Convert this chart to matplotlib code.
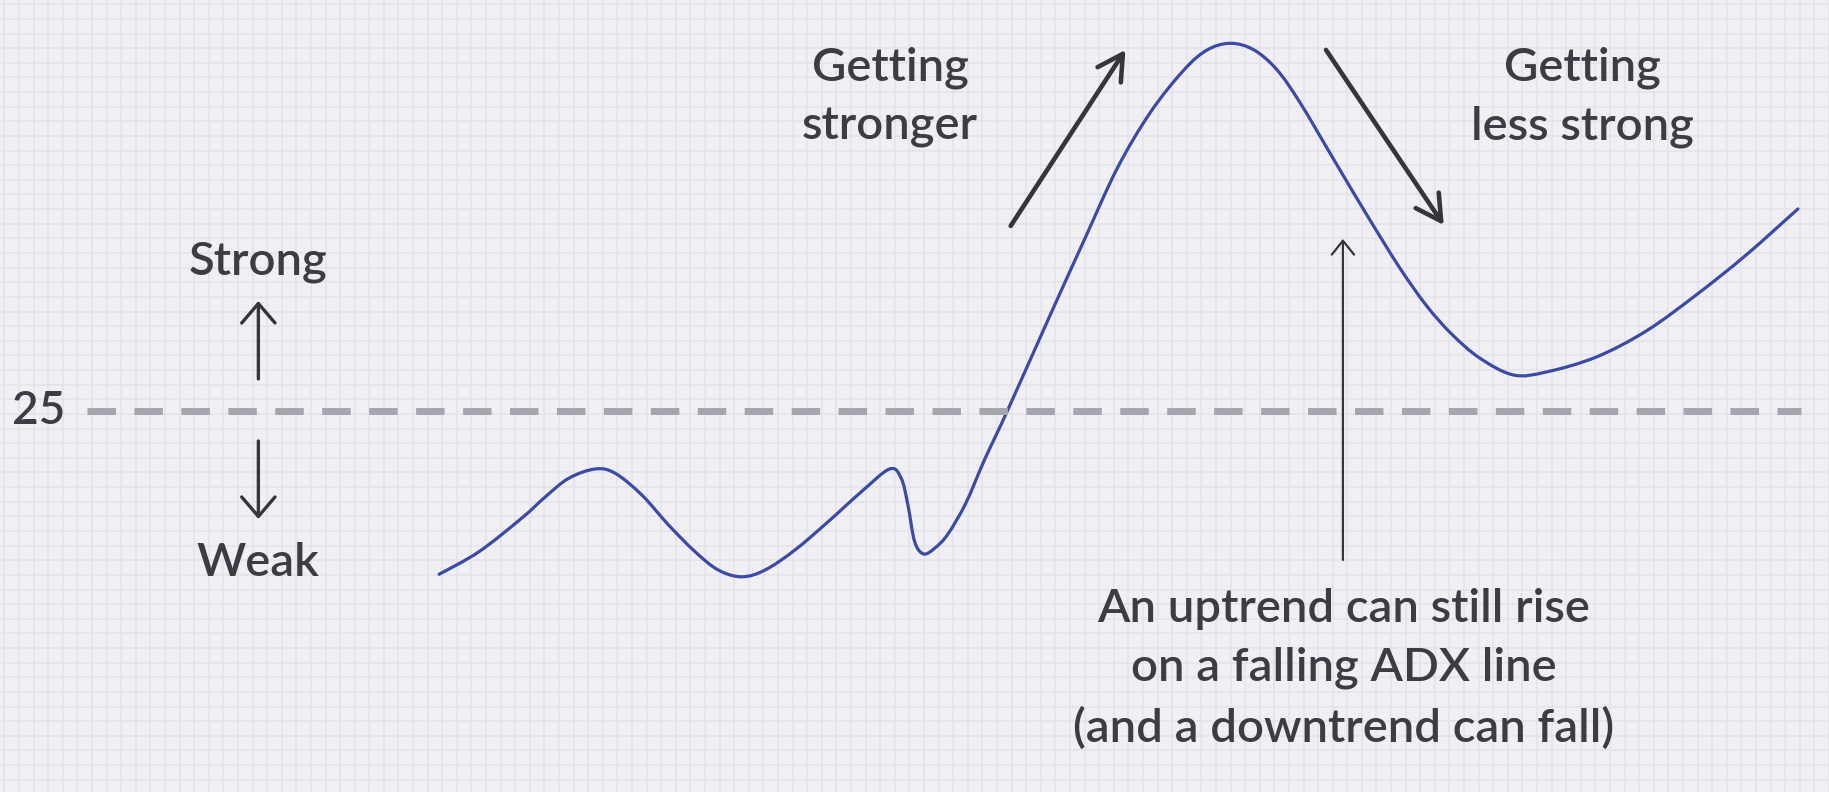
import matplotlib.pyplot as plt
from matplotlib.path import Path
from matplotlib.patches import PathPatch
import numpy as np

plt.rcParams['font.family'] = ['Lato', 'DejaVu Sans']

# ADX line (x in bars, y in ADX points)
adx_x = [30.08, 32.81, 35.77, 37.37, 38.96, 40.79, 42.15, 43.97, 45.80, 47.62,
         49.21, 50.81, 52.41, 54.46, 56.73, 59.01, 60.95, 61.74, 62.20, 62.66,
         63.27, 64.03, 64.94, 66.17, 67.44, 69.04, 72.00, 74.28, 76.55, 78.83,
         81.11, 82.71, 84.30, 85.90, 87.49, 89.09, 91.39, 93.64, 95.90, 97.74,
         99.45, 101.37, 103.69, 105.95, 109.36, 112.78, 116.20, 119.62, 123.17]
adx_y = [13.84, 15.38, 17.70, 19.14, 20.40, 21.04, 20.74, 19.26, 17.21, 15.38,
         14.13, 13.67, 14.13, 15.50, 17.43, 19.48, 21.04, 20.40, 18.57, 16.07,
         15.23, 15.62, 16.59, 18.71, 21.65, 25.07, 31.68, 36.69, 41.61, 45.44,
         48.31, 49.68, 50.13, 49.68, 48.31, 46.03, 42.16, 38.40, 34.77, 32.18,
         30.26, 28.62, 27.46, 27.67, 28.69, 30.47, 32.93, 35.66, 38.81]

threshold = 25
threshold_label = '25'

# annotation arrows: (x_from, y_from, x_to, y_to)
big_arrows = [(69.24, 37.65, 77.10, 49.68),
              (90.84, 49.68, 98.91, 37.71)]
level_arrows = [(17.70, 27.19, 17.70, 32.52),
                (17.70, 22.95, 17.70, 17.62)]
note_arrow = (92.00, 14.82, 92.00, 36.76)

labels = [('Strong', 17.70, 35.18),
          ('Weak', 17.70, 14.61),
          ('Getting\nstronger', 60.97, 46.46),
          ('Getting\nless strong', 108.41, 46.46),
          ('An uptrend can still rise\non a falling ADX line\n(and a downtrend can fall)', 92.07, 7.36)]

bg = '#f0eff4'
grid_col = '#e4e3ea'
text_col = '#3c3c44'
line_col = '#3b4aa3'
arrow_col = '#35353b'


def smooth_path(xs, ys):
    # draw through the read points with Catmull-Rom style bezier segments
    p = np.column_stack([xs, ys])
    verts = [p[0]]
    codes = [Path.MOVETO]
    n = len(p)
    for i in range(n - 1):
        p0 = p[max(i - 1, 0)]
        p1 = p[i]
        p2 = p[i + 1]
        p3 = p[min(i + 2, n - 1)]
        c1 = p1 + (p2 - p0) / 6.0
        c2 = p2 - (p3 - p1) / 6.0
        verts += [c1, c2, p2]
        codes += [Path.CURVE4] * 3
    return Path(verts, codes)


fig = plt.figure(figsize=(18.29, 7.92), dpi=100, facecolor=bg)
ax = fig.add_axes([0, 0, 1, 1])
ax.set_facecolor(bg)
ax.set_xlim(0, 125.0)
ax.set_ylim(-1.04, 53.09)

# graph paper
ax.set_xticks(np.arange(0.3, 125.5, 1))
ax.set_yticks(np.arange(-0.2, 53.5, 1))
ax.tick_params(length=0, labelbottom=False, labelleft=False)
ax.grid(True, color=grid_col, linewidth=1.1)
ax.set_axisbelow(True)
for s in ax.spines.values():
    s.set_visible(False)

# 25 level
ax.plot([5.95, 123.4], [threshold, threshold], color='#a5a5ad', lw=5,
        dashes=(4.1, 2.66), solid_capstyle='butt', dash_capstyle='butt')
ax.text(2.65, threshold, threshold_label, ha='center', va='center',
        fontsize=33, color=text_col, fontweight='semibold')

ax.add_patch(PathPatch(smooth_path(adx_x, adx_y), facecolor='none',
                       edgecolor=line_col, lw=2.3, capstyle='round',
                       joinstyle='round'))

for x0, y0, x1, y1 in big_arrows:
    ax.annotate('', xy=(x1, y1), xytext=(x0, y0),
                arrowprops=dict(arrowstyle='->,head_length=0.9,head_width=0.5',
                                mutation_scale=20, color=arrow_col, lw=3.3,
                                shrinkA=0, shrinkB=0))
for x0, y0, x1, y1 in level_arrows:
    ax.annotate('', xy=(x1, y1), xytext=(x0, y0),
                arrowprops=dict(arrowstyle='->,head_length=0.7,head_width=0.6',
                                mutation_scale=20, color=arrow_col, lw=2.4,
                                shrinkA=0, shrinkB=0))
x0, y0, x1, y1 = note_arrow
ax.annotate('', xy=(x1, y1), xytext=(x0, y0),
            arrowprops=dict(arrowstyle='->,head_length=0.5,head_width=0.4',
                            mutation_scale=20, color=arrow_col, lw=1.6,
                            shrinkA=0, shrinkB=0))

for txt, x, y in labels:
    ax.text(x, y, txt, ha='center', va='center', fontsize=34, color=text_col,
            fontweight='semibold', linespacing=1.5, multialignment='center')

fig.savefig('out.png', dpi=100, facecolor=bg)
